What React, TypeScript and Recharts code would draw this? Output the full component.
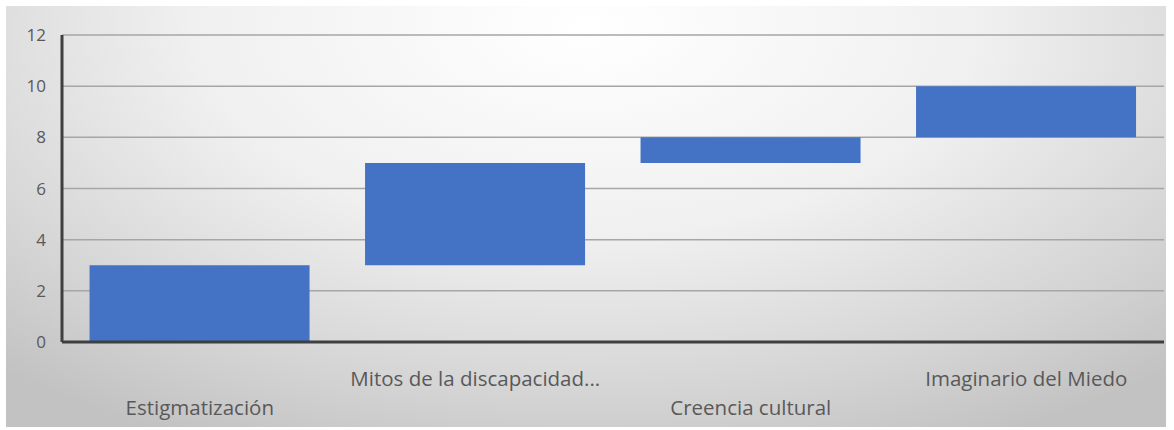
import { BarChart, Bar, XAxis, YAxis, CartesianGrid } from 'recharts';

const categories = ['Estigmatización', 'Mitos de la discapacidad...', 'Creencia cultural', 'Imaginario del Miedo'];
const baseValues = [0, 3, 7, 8];
const stepValues = [3, 4, 1, 2];
const yTicks = [0, 2, 4, 6, 8, 10, 12];

const data = categories.map((name, i) => ({ name, base: baseValues[i], step: stepValues[i] }));

const FONT = '"Open Sans", sans-serif';

function StaggeredTick(props: any) {
  const { x, y, payload, index } = props;
  const offset = index % 2 === 0 ? 65 : 36;
  return (
    <text x={x} y={y + offset} textAnchor="middle" fill="#595959" fontSize={20.5} fontFamily={FONT}>
      {payload.value}
    </text>
  );
}

export default function App() {
  return (
    <div style={{ position: 'fixed', left: 0, top: 0, width: 1174, height: 430, background: '#fff' }}>
      <div
        style={{
          position: 'absolute',
          left: 6,
          top: 6,
          width: 1160,
          height: 421,
          background: 'radial-gradient(ellipse 75% 110% at 50% 5%, #ffffff 0%, #f0f0f0 45%, #d4d4d4 80%, #c2c2c2 100%)',
        }}
      >
        <BarChart
          width={1160}
          height={421}
          data={data}
          margin={{ top: 29, right: 2, bottom: 0, left: 0 }}
          barCategoryGap="10%"
        >
          <CartesianGrid vertical={false} stroke="#a6a6a6" strokeWidth={1.5} />
          <XAxis
            dataKey="name"
            height={85}
            interval={0}
            tickLine={false}
            axisLine={{ stroke: '#3f3f3f', strokeWidth: 3 }}
            tick={<StaggeredTick />}
          />
          <YAxis
            width={56}
            domain={[0, 12]}
            ticks={yTicks}
            tickLine={false}
            tickMargin={10}
            axisLine={{ stroke: '#3f3f3f', strokeWidth: 3 }}
            tick={{ fill: '#595959', fontSize: 17, fontFamily: FONT }}
          />
          <Bar dataKey="base" stackId="w" fill="transparent" isAnimationActive={false} />
          <Bar dataKey="step" stackId="w" fill="#4472C4" isAnimationActive={false} />
        </BarChart>
      </div>
    </div>
  );
}
